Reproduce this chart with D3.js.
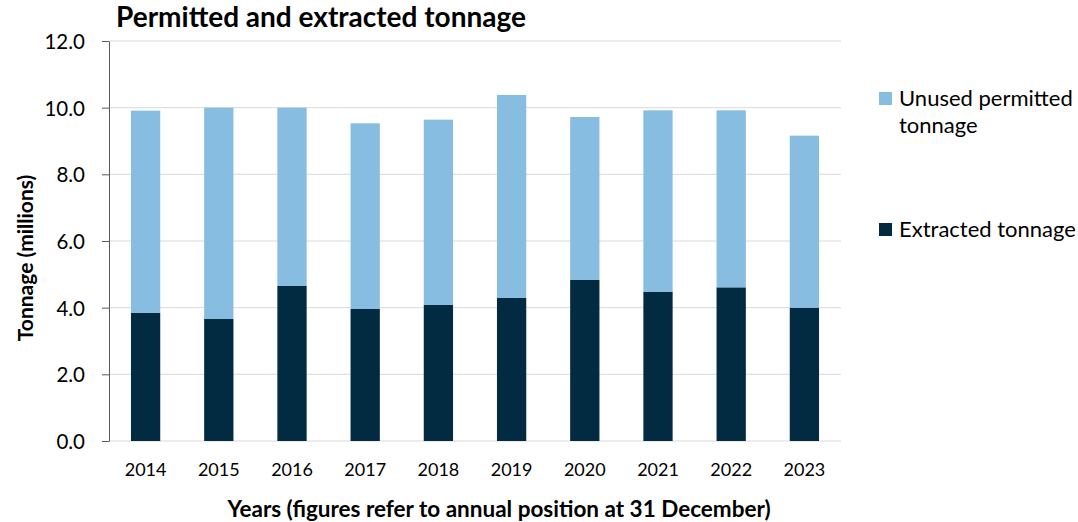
<!DOCTYPE html>
<html>
<head>
<meta charset="utf-8">
<script src="https://cdn.jsdelivr.net/npm/d3@7"></script>
<style>
  body { margin: 0; background: #fff; }
  text { font-family: Lato, "Open Sans", sans-serif; fill: #000; }
</style>
</head>
<body>
<script>
// data (millions of tonnes)
var years = ["2014", "2015", "2016", "2017", "2018", "2019", "2020", "2021", "2022", "2023"];
var extracted = [3.85, 3.66, 4.65, 3.96, 4.08, 4.29, 4.84, 4.48, 4.61, 4.00];
var unused = [6.06, 6.34, 5.35, 5.57, 5.56, 6.09, 4.88, 5.44, 5.31, 5.16];
var yTicks = [0, 2, 4, 6, 8, 10, 12];

var width = 1078;
var height = 522;

var margin = { top: 41, bottom: 81, left: 109, right: 237 };

var colours = { unused: "#88bde2", extracted: "#022a40" };

var svg = d3.select("body")
    .append("svg")
    .attr("width", width)
    .attr("height", height);

var plotW = width - margin.left - margin.right;
var plotH = height - margin.top - margin.bottom;

var g = svg.append("g")
    .attr("transform", "translate(" + margin.left + "," + margin.top + ")");

var x = d3.scaleBand()
    .domain(years)
    .range([0, plotW])
    .paddingInner(0.6)
    .paddingOuter(0.3);

var y = d3.scaleLinear()
    .domain([0, 12])
    .range([plotH, 0]);

// gridlines
g.selectAll(".grid")
    .data(yTicks)
    .enter()
    .append("line")
    .attr("x1", 0)
    .attr("x2", plotW)
    .attr("y1", function(d) { return y(d); })
    .attr("y2", function(d) { return y(d); })
    .attr("stroke", "#d9d9d9")
    .attr("stroke-width", 1);

// stacked bars
var rows = years.map(function(yr, i) {
    return { year: yr, extracted: extracted[i], unused: unused[i] };
});
var stack = d3.stack().keys(["extracted", "unused"]);
var series = stack(rows);

g.selectAll(".series")
    .data(series)
    .enter()
    .append("g")
    .attr("fill", function(d) { return colours[d.key]; })
    .selectAll("rect")
    .data(function(d) { return d; })
    .enter()
    .append("rect")
    .attr("x", function(d) { return x(d.data.year); })
    .attr("width", x.bandwidth())
    .attr("y", function(d) { return y(d[1]); })
    .attr("height", function(d) { return y(d[0]) - y(d[1]); });

// y axis
var yAxis = g.append("g")
    .call(d3.axisLeft(y).tickValues(yTicks).tickFormat(d3.format(".1f")).tickSize(7).tickSizeOuter(0));
yAxis.select(".domain").attr("stroke", "#595959");
yAxis.selectAll(".tick line").attr("stroke", "#595959");
yAxis.selectAll(".tick text")
    .attr("x", -24)
    .attr("dy", "0.36em")
    .style("font-size", "20.5px");

// x axis labels
var xAxis = g.append("g")
    .attr("transform", "translate(0," + plotH + ")")
    .call(d3.axisBottom(x).tickSize(0));
xAxis.select(".domain").remove();
xAxis.selectAll(".tick text")
    .attr("dy", "0")
    .attr("y", 35)
    .style("font-size", "18px");

// titles
svg.append("text")
    .attr("x", 116)
    .attr("y", 27)
    .style("font-size", "28px")
    .style("font-weight", "bold")
    .text("Permitted and extracted tonnage");

svg.append("text")
    .attr("transform", "translate(33,258) rotate(-90)")
    .attr("text-anchor", "middle")
    .style("font-size", "21px")
    .style("font-weight", "bold")
    .text("Tonnage (millions)");

svg.append("text")
    .attr("x", 499)
    .attr("y", 517)
    .attr("text-anchor", "middle")
    .style("font-size", "22.5px")
    .style("font-weight", "bold")
    .text("Years (figures refer to annual position at 31 December)");

// legend
var legend = [
    { key: "unused", lines: ["Unused permitted", "tonnage"], y: 92 },
    { key: "extracted", lines: ["Extracted tonnage"], y: 223 }
];

var lg = svg.selectAll(".legend")
    .data(legend)
    .enter()
    .append("g")
    .attr("transform", function(d) { return "translate(879," + d.y + ")"; });

lg.append("rect")
    .attr("width", 13)
    .attr("height", 13)
    .attr("fill", function(d) { return colours[d.key]; });

lg.append("text")
    .attr("x", 20)
    .attr("y", 14)
    .style("font-size", "22px")
    .selectAll("tspan")
    .data(function(d) { return d.lines; })
    .enter()
    .append("tspan")
    .attr("x", 20)
    .attr("dy", function(d, i) { return i === 0 ? 0 : 27; })
    .text(function(d) { return d; });
</script>
</body>
</html>
